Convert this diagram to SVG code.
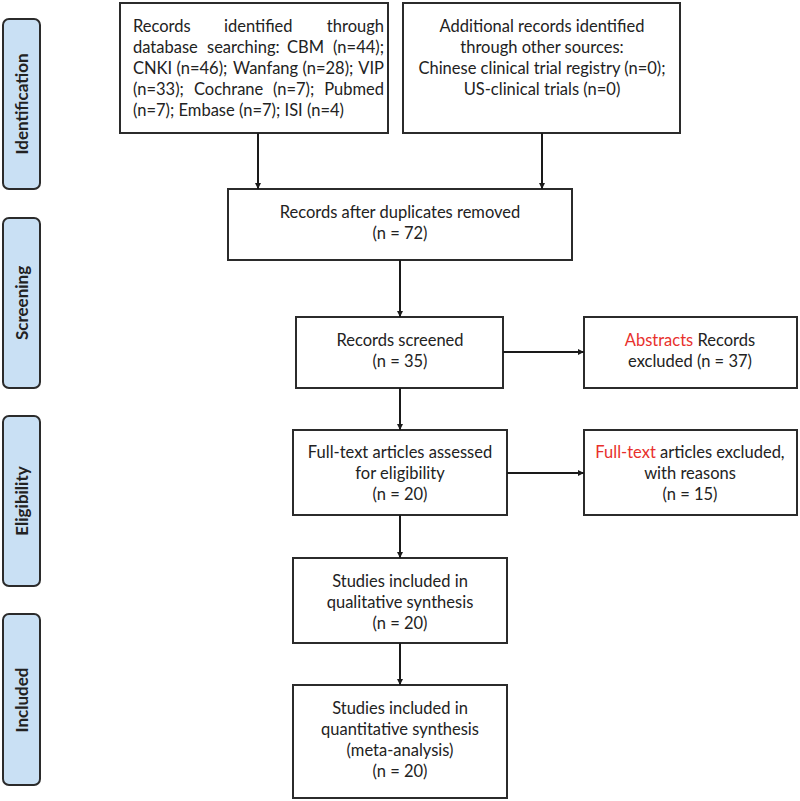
<svg xmlns="http://www.w3.org/2000/svg" width="800" height="801" viewBox="0 0 800 801">
<style>
.box{fill:#fff;stroke:#2b2b2b;stroke-width:2}
.side{fill:#c9e0f4;stroke:#2b2b2b;stroke-width:2}
.t{font-family:Lato,"Open Sans",sans-serif;font-size:16.5px;fill:#222;text-anchor:middle}
.j{font-family:Lato,"Open Sans",sans-serif;font-size:16.5px;fill:#222}
.e{text-anchor:end}
.s{font-family:Lato,"Open Sans",sans-serif;font-size:17px;font-weight:bold;fill:#222;text-anchor:middle}
.red{fill:#e8302c}
.c{stroke:#1a1a1a;stroke-width:2;fill:none;marker-end:url(#ah)}
</style>
<defs>
<marker id="ah" viewBox="0 0 10 10" refX="10" refY="5" markerWidth="6" markerHeight="6" markerUnits="userSpaceOnUse" orient="auto">
<path d="M0,0 L10,5 L0,10 z" fill="#1a1a1a"/>
</marker>
</defs>
<rect width="800" height="801" fill="#fff"/>
<g id="side-identification"><rect class="side" x="3" y="19" width="37" height="170" rx="6"/><text class="s" transform="translate(28,104) rotate(-90)">Identification</text></g>
<g id="side-screening"><rect class="side" x="3" y="218" width="37" height="170" rx="6"/><text class="s" transform="translate(28,303) rotate(-90)">Screening</text></g>
<g id="side-eligibility"><rect class="side" x="3" y="416" width="37" height="170" rx="6"/><text class="s" transform="translate(28,501) rotate(-90)">Eligibility</text></g>
<g id="side-included"><rect class="side" x="3" y="614" width="37" height="171" rx="6"/><text class="s" transform="translate(28,700) rotate(-90)">Included</text></g>

<g id="n1"><rect class="box" x="120" y="3" width="268" height="130"/>
<text class="j" x="133" y="32">Records</text><text class="j" x="224" y="32">identified</text><text class="j e" x="384" y="32">through</text>
<text class="j" x="133" y="53">database</text><text class="j" x="207" y="53">searching:</text><text class="j" x="287" y="53">CBM</text><text class="j e" x="384" y="53">(n=44);</text>
<text class="j" x="133" y="74">CNKI</text><text class="j" x="176.5" y="74">(n=46);</text><text class="j" x="233" y="74">Wanfang</text><text class="j" x="302.5" y="74">(n=28);</text><text class="j e" x="384" y="74">VIP</text>
<text class="j" x="133" y="95">(n=33);</text><text class="j" x="194" y="95">Cochrane</text><text class="j" x="273" y="95">(n=7);</text><text class="j e" x="384" y="95">Pubmed</text>
<text class="j" x="133" y="116">(n=7); Embase (n=7); ISI (n=4)</text>
</g>
<g id="n2"><rect class="box" x="403" y="3" width="277" height="130"/>
<text class="t" x="542" y="32">Additional records identified</text>
<text class="t" x="542" y="53">through other sources:</text>
<text class="t" x="542" y="74">Chinese clinical trial registry (n=0);</text>
<text class="t" x="542" y="95">US-clinical trials (n=0)</text>
</g>
<g id="n3"><rect class="box" x="228" y="189" width="344" height="71"/>
<text class="t" x="400" y="218">Records after duplicates removed</text>
<text class="t" x="400" y="239">(n = 72)</text>
</g>
<g id="n4"><rect class="box" x="296" y="317" width="207" height="71"/>
<text class="t" x="400" y="346">Records screened</text>
<text class="t" x="400" y="367">(n = 35)</text>
</g>
<g id="n5"><rect class="box" x="584" y="317" width="213" height="71"/>
<text class="t" x="690" y="346"><tspan class="red">Abstracts</tspan> Records</text>
<text class="t" x="690" y="367">excluded (n = 37)</text>
</g>
<g id="n6"><rect class="box" x="293" y="430" width="214" height="85"/>
<text class="t" x="400" y="458">Full-text articles assessed</text>
<text class="t" x="400" y="479">for eligibility</text>
<text class="t" x="400" y="500">(n = 20)</text>
</g>
<g id="n7"><rect class="box" x="584" y="430" width="213" height="85"/>
<text class="t" x="690" y="458"><tspan class="red">Full-text</tspan> articles excluded,</text>
<text class="t" x="690" y="479">with reasons</text>
<text class="t" x="690" y="500">(n = 15)</text>
</g>
<g id="n8"><rect class="box" x="293" y="558" width="214" height="85"/>
<text class="t" x="400" y="587">Studies included in</text>
<text class="t" x="400" y="608">qualitative synthesis</text>
<text class="t" x="400" y="629">(n = 20)</text>
</g>
<g id="n9"><rect class="box" x="293" y="685" width="214" height="113"/>
<text class="t" x="400" y="714">Studies included in</text>
<text class="t" x="400" y="735">quantitative synthesis</text>
<text class="t" x="400" y="756">(meta-analysis)</text>
<text class="t" x="400" y="777">(n = 20)</text>
</g>
<g id="connectors">
<line class="c" x1="258" y1="133" x2="258" y2="189"/>
<line class="c" x1="542" y1="133" x2="542" y2="189"/>
<line class="c" x1="400" y1="260" x2="400" y2="317"/>
<line class="c" x1="503" y1="352" x2="584" y2="352"/>
<line class="c" x1="400" y1="388" x2="400" y2="430"/>
<line class="c" x1="507" y1="473" x2="584" y2="473"/>
<line class="c" x1="400" y1="515" x2="400" y2="558"/>
<line class="c" x1="400" y1="643" x2="400" y2="685"/>
</g>
</svg>
